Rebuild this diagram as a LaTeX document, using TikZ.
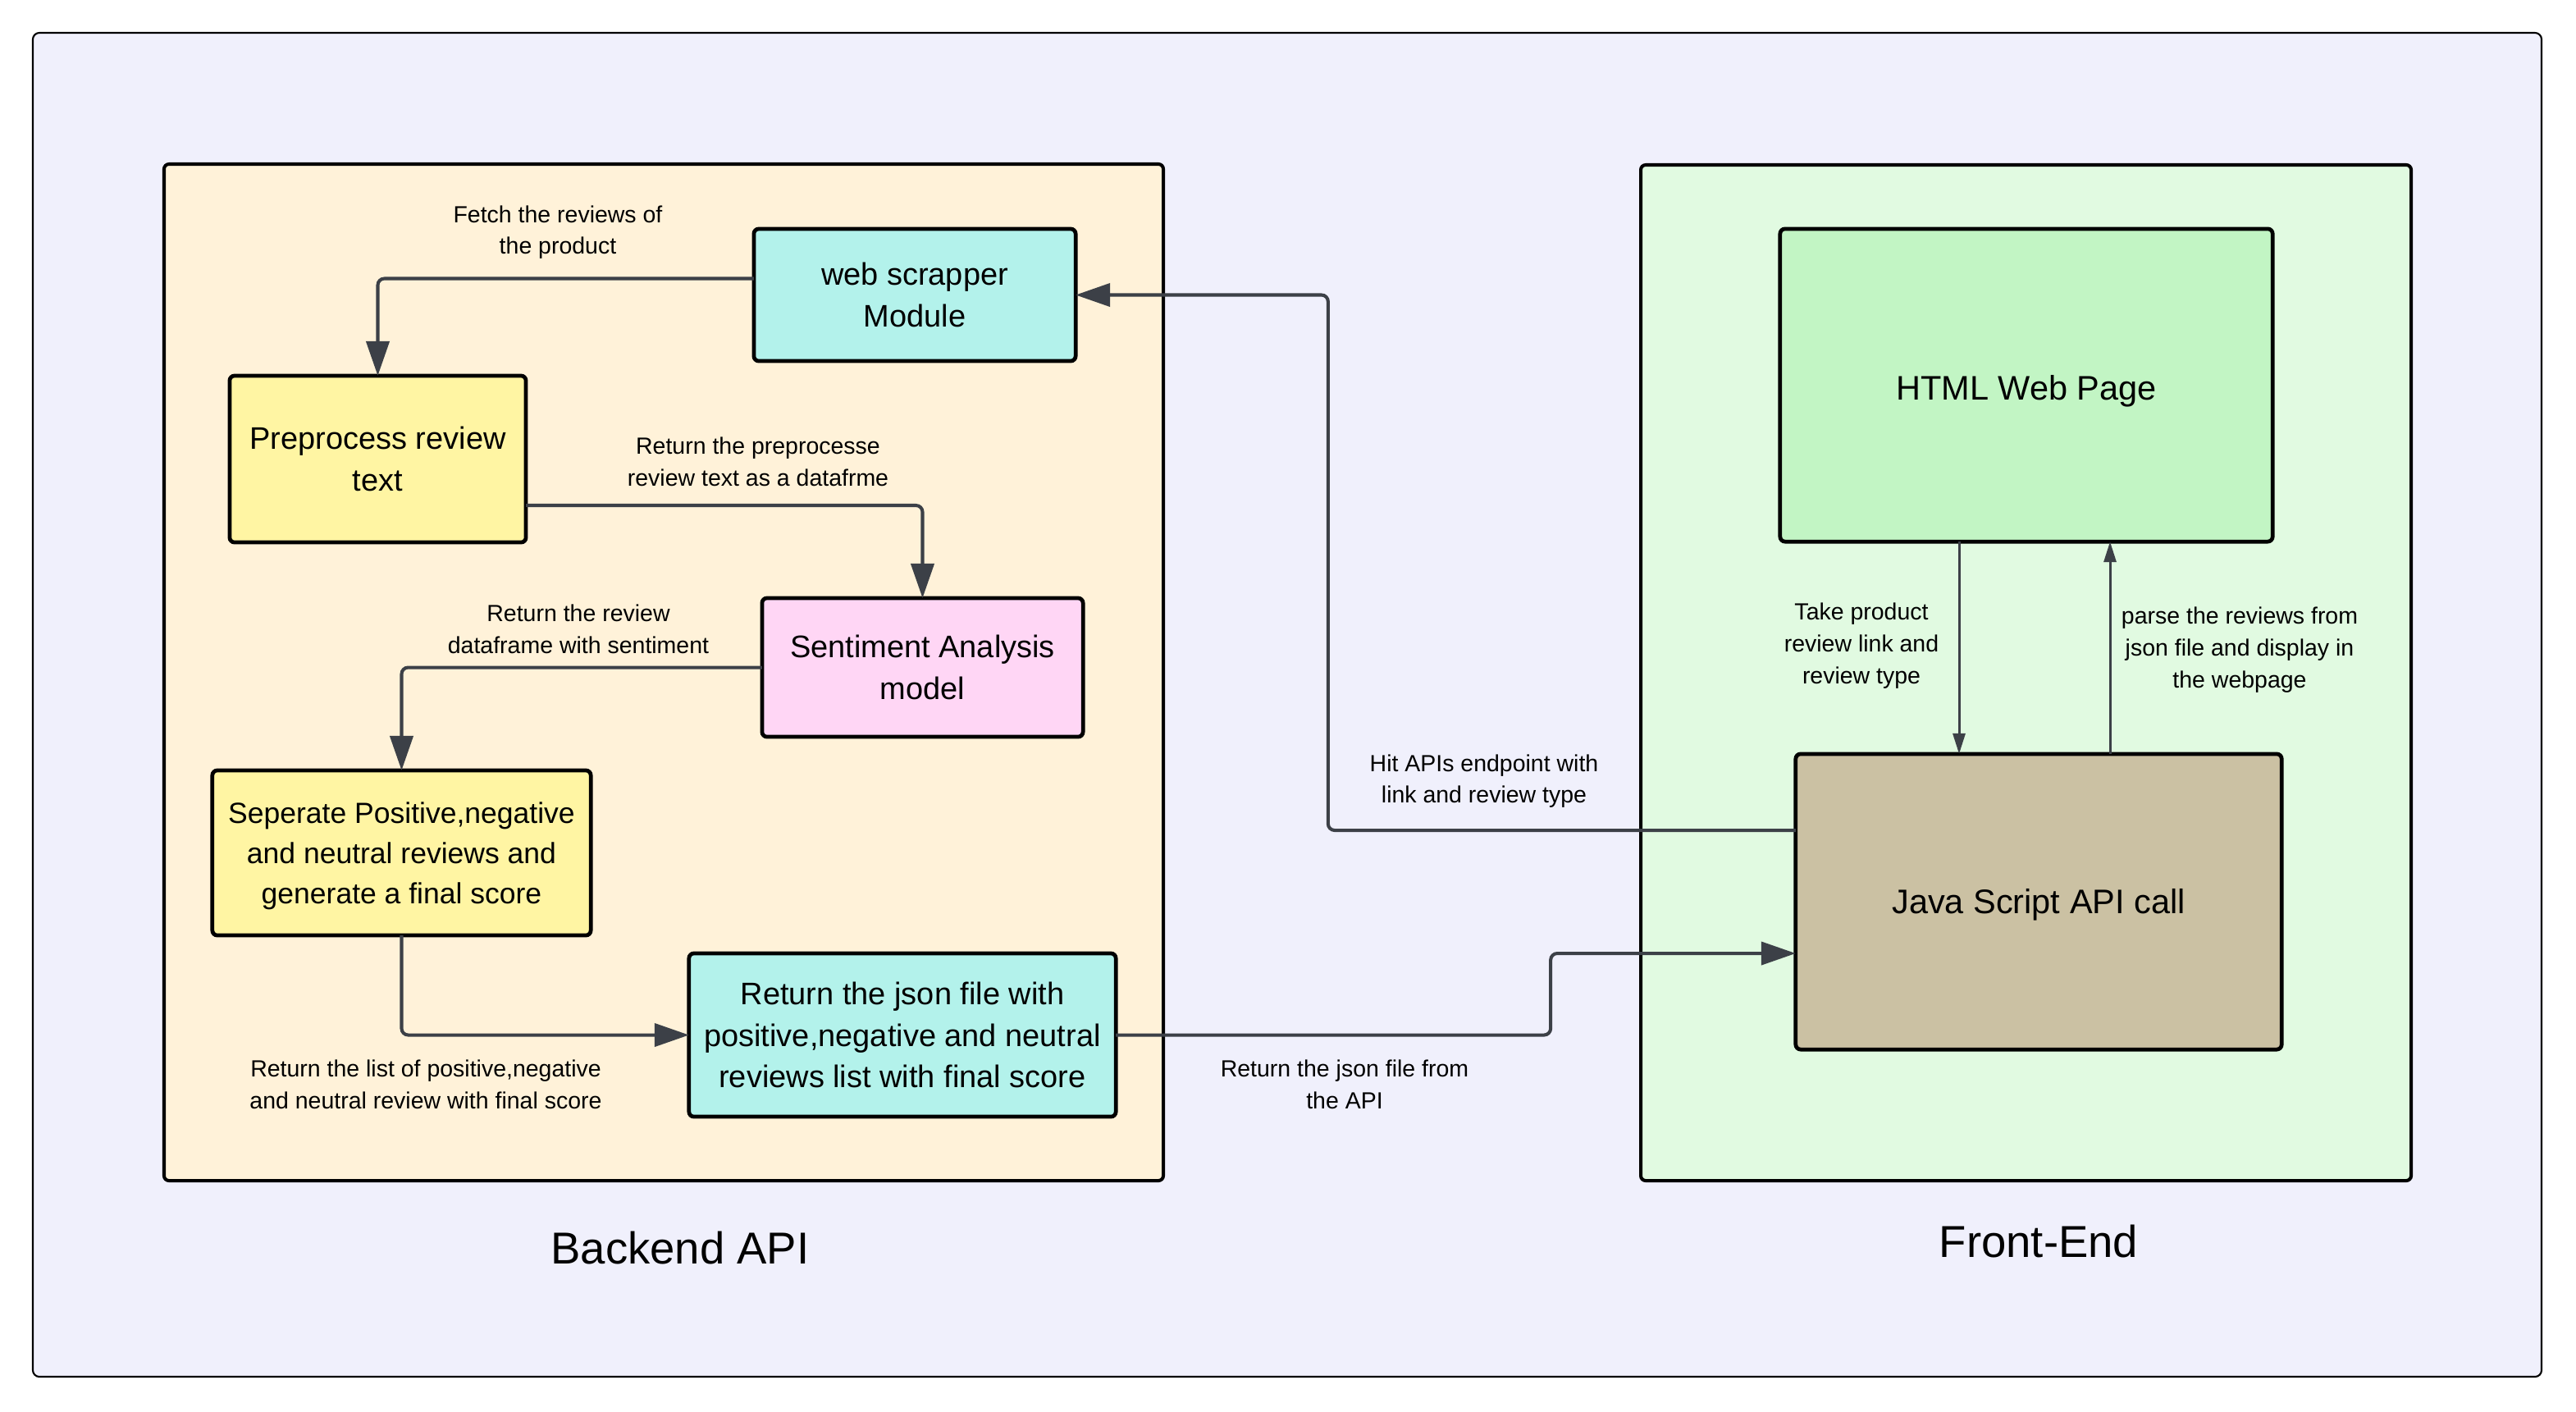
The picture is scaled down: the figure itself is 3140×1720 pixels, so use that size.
\documentclass[tikz,border=0pt]{standalone}
\usepackage{fontspec}
\setmainfont{Liberation Sans}
\usetikzlibrary{arrows.meta,calc}
\definecolor{bgL}{HTML}{F0F0FC}
\definecolor{backF}{HTML}{FFF2D9}
\definecolor{frontF}{HTML}{E1FAE1}
\definecolor{cyanF}{HTML}{B3F2EB}
\definecolor{yelF}{HTML}{FFF5A3}
\definecolor{pinkF}{HTML}{FFD6F5}
\definecolor{htmlF}{HTML}{C2F5C4}
\definecolor{tanF}{HTML}{CBC1A3}
\definecolor{connC}{HTML}{3C4047}
\begin{document}
\begin{tikzpicture}[x=0.01cm,y=-0.01cm,
  box/.style={draw=black, line width=1.35pt, rounded corners=0.06cm, inner sep=0pt, outer sep=0pt, align=center, font=\fontsize{10.8}{14.4}\selectfont},
  bigbox/.style={box, font=\fontsize{11.8}{15}\selectfont},
  lbl/.style={align=center, font=\fontsize{8.1}{11}\selectfont, inner sep=0pt},
  ttl/.style={font=\fontsize{15.5}{18}\selectfont, inner sep=0pt},
  conn/.style={draw=connC, line width=1.15pt, rounded corners=0.08cm, -{Triangle[length=0.42cm,width=0.28cm]}},
  thinconn/.style={draw=connC, line width=0.85pt, -{Triangle[length=0.25cm,width=0.15cm]}},
  container/.style={draw=black, line width=1.15pt, rounded corners=0.06cm},
]
\fill[white] (0,0) rectangle (3140,1720);
\useasboundingbox (0,0) rectangle (3140,1720);
\draw[fill=bgL, line width=0.6pt, rounded corners=0.08cm] (40,40) rectangle (3098,1678);
\draw[container, fill=backF] (200,200) rectangle (1418,1439);
\draw[container, fill=frontF] (2000,201) rectangle (2939,1439);

\node[box, fill=cyanF, minimum width=3.92cm, minimum height=1.61cm] (web) at (1115,359.5) {web scrapper\\Module};
\node[box, fill=yelF, minimum width=3.61cm, minimum height=2.03cm] (pre) at (460.5,559.5) {Preprocess review\\text};
\node[box, fill=pinkF, minimum width=3.91cm, minimum height=1.69cm] (sent) at (1124.5,813.5) {Sentiment Analysis\\model};
\node[box, fill=yelF, minimum width=4.61cm, minimum height=2.01cm, font=\fontsize{10.1}{13.9}\selectfont, text depth=-4.7pt] (sep) at (489.5,1039.5) {Seperate Positive,negative\\and neutral reviews and\\generate a final score};
\node[box, fill=cyanF, minimum width=5.20cm, minimum height=1.99cm] (json) at (1100,1261.5) {Return the json file with\\positive,negative and neutral\\reviews list with final score};
\node[bigbox, fill=htmlF, minimum width=6.00cm, minimum height=3.81cm, text height=13pt, text depth=2.5pt] (html) at (2470,469.5) {HTML Web Page};
\node[bigbox, fill=tanF, minimum width=5.92cm, minimum height=3.60cm, text height=10.9pt, text depth=2.5pt] (js) at (2485,1099) {Java Script API call};

\node[ttl] (tback) at (829,1521) {Backend API};
\node[ttl] (tfront) at (2485,1513) {Front-End};

\draw[conn] ($(web.west)+(0,-20)$) -| (pre.north);
\draw[conn] ($(pre.east)+(0,56.5)$) -| (sent.north);
\draw[conn] (sent.west) -| (sep.north);
\draw[conn] (sep.south) |- (json.west);
\draw[conn] (json.east) -- ++(530,0) |- ($(js.west)+(0,63)$);
\draw[conn] ($(js.west)+(0,-87)$) -- ++(-570,0) |- (web.east);
\coordinate (c7) at ($(html.south)+(-82,0)$);
\coordinate (c8) at ($(html.south)+(102,0)$);
\draw[thinconn] (c7) -- (c7 |- js.north);
\draw[thinconn] (c8 |- js.north) -- (c8);

\node[lbl] (l1) at (680,283) {Fetch the reviews of\\the product};
\node[lbl] (l2) at (924,563) {Return the preprocesse\\review text as a datafrme};
\node[lbl] (l3) at (705,767) {Return the review\\dataframe with sentiment};
\node[lbl] (l4) at (519,1322) {Return the list of positive,negative\\and neutral review with final score};
\node[lbl] (l5) at (1639,1322) {Return the json file from\\the API};
\node[lbl] (l6) at (1809,952) {Hit APIs endpoint with\\link and review type};
\node[lbl] (l7) at (2269,787) {Take product\\review link and\\review type};
\node[lbl] (l8) at (2730,792) {parse the reviews from\\json file and display in\\the webpage};
\end{tikzpicture}
\end{document}
